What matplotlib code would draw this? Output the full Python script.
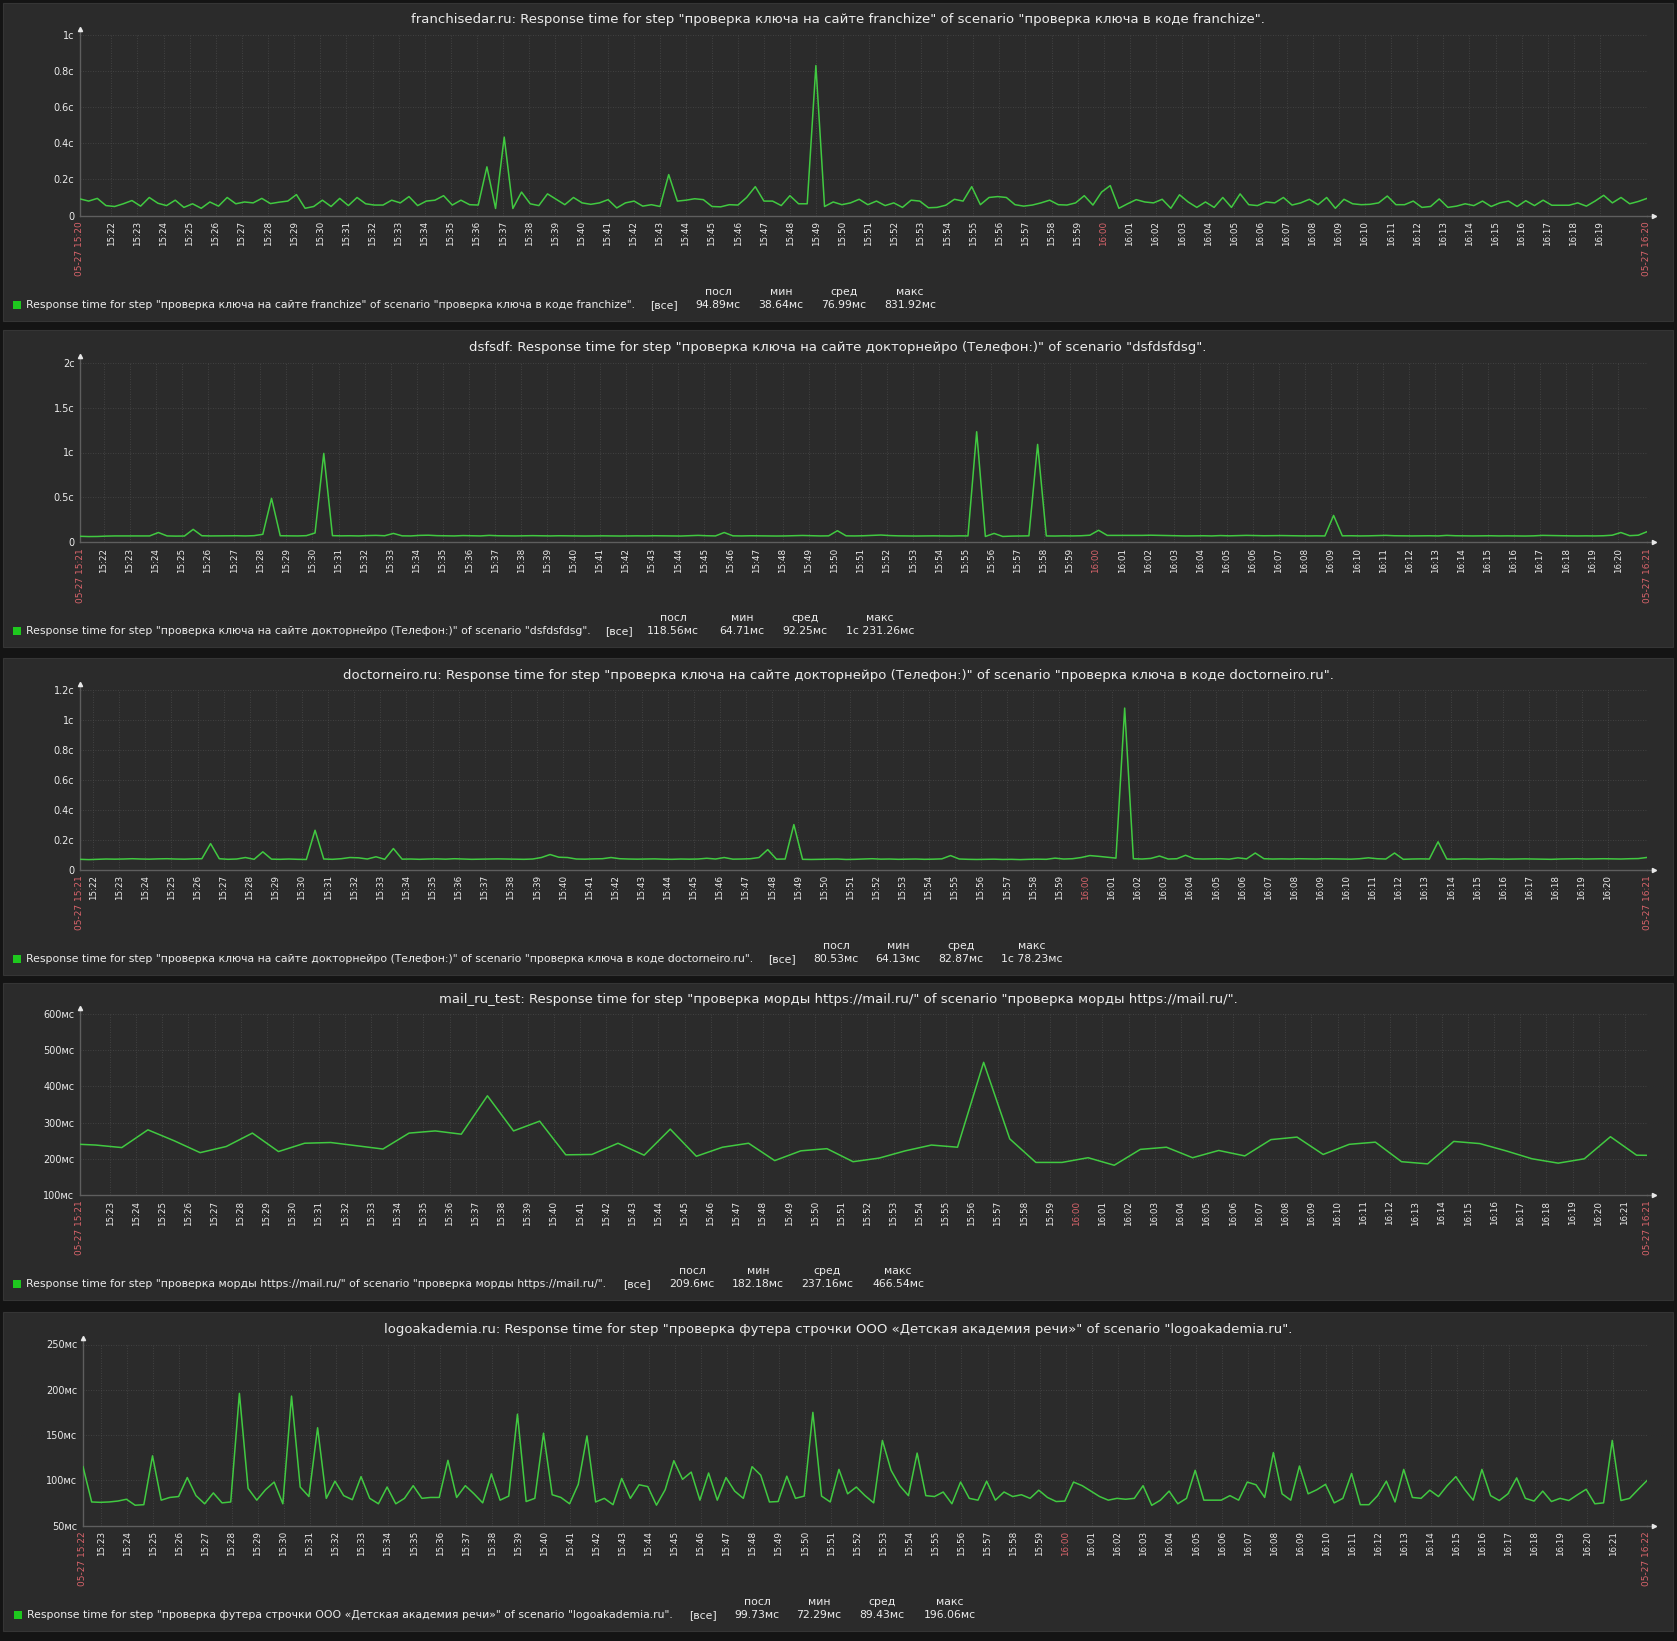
import numpy as np
import matplotlib.pyplot as plt
from matplotlib.patches import Rectangle

W, H = 1677, 1641
BG = '#141414'
PANEL = '#2b2b2b'
TXT = '#ececec'
RED = '#d9646b'
GREEN = '#41c941'

# ---- data (minutes after 15:00 for the window start, values per sample) ----
# franchisedar.ru, seconds, even samples over 60 minutes
franch_vals = [
    0.092, 0.08, 0.095, 0.055, 0.05, 0.065, 0.083, 0.052, 0.1, 0.068,
    0.055, 0.085, 0.045, 0.065, 0.04, 0.075, 0.052, 0.1, 0.065, 0.075,
    0.07, 0.095, 0.066, 0.074, 0.08, 0.116, 0.04, 0.05, 0.085, 0.05,
    0.095, 0.055, 0.1, 0.065, 0.058, 0.058, 0.085, 0.07, 0.105, 0.055,
    0.08, 0.085, 0.11, 0.058, 0.085, 0.06, 0.058, 0.27, 0.039, 0.435,
    0.039, 0.13, 0.065, 0.055, 0.12, 0.09, 0.06, 0.1, 0.07, 0.062,
    0.07, 0.088, 0.042, 0.07, 0.08, 0.052, 0.06, 0.05, 0.227, 0.08,
    0.085, 0.093, 0.088, 0.05, 0.048, 0.06, 0.058, 0.1, 0.16, 0.08,
    0.08, 0.055, 0.11, 0.065, 0.065, 0.832, 0.05, 0.075, 0.06, 0.07,
    0.09, 0.06, 0.08, 0.055, 0.07, 0.045, 0.085, 0.08, 0.043, 0.045,
    0.057, 0.09, 0.08, 0.16, 0.06, 0.1, 0.105, 0.1, 0.06, 0.052,
    0.058, 0.07, 0.085, 0.06, 0.058, 0.07, 0.11, 0.058, 0.13, 0.166,
    0.04, 0.065, 0.088, 0.075, 0.07, 0.09, 0.04, 0.115, 0.075, 0.045,
    0.075, 0.045, 0.1, 0.045, 0.12, 0.06, 0.055, 0.075, 0.07, 0.1,
    0.058, 0.07, 0.09, 0.06, 0.1, 0.04, 0.09, 0.065, 0.06, 0.062,
    0.07, 0.108, 0.06, 0.06, 0.08, 0.045, 0.05, 0.092, 0.045, 0.052,
    0.065, 0.055, 0.08, 0.05, 0.07, 0.08, 0.05, 0.082, 0.055, 0.085,
    0.057, 0.057, 0.057, 0.07, 0.052, 0.08, 0.112, 0.07, 0.1, 0.065,
    0.078, 0.095,
]

# dsfsdf, seconds
dsf_vals = [
    0.068, 0.065, 0.066, 0.070, 0.072, 0.072, 0.071, 0.073, 0.072, 0.110,
    0.072, 0.070, 0.071, 0.145, 0.074, 0.072, 0.073, 0.075, 0.074, 0.072,
    0.075, 0.090, 0.490, 0.074, 0.073, 0.072, 0.075, 0.105, 0.990, 0.075,
    0.073, 0.074, 0.072, 0.076, 0.078, 0.074, 0.100, 0.073, 0.072, 0.078,
    0.080, 0.075, 0.073, 0.072, 0.076, 0.074, 0.072, 0.078, 0.074, 0.073,
    0.072, 0.074, 0.075, 0.073, 0.072, 0.074, 0.073, 0.072, 0.071, 0.072,
    0.073, 0.072, 0.071, 0.072, 0.073, 0.072, 0.074, 0.073, 0.072, 0.071,
    0.075, 0.078, 0.074, 0.072, 0.110, 0.073, 0.072, 0.074, 0.073, 0.072,
    0.071, 0.072, 0.075, 0.077, 0.074, 0.072, 0.073, 0.130, 0.073, 0.072,
    0.074, 0.078, 0.082, 0.076, 0.073, 0.072, 0.071, 0.072, 0.073, 0.072,
    0.071, 0.073, 0.072, 1.231, 0.066, 0.100, 0.066, 0.070, 0.072, 0.073,
    1.090, 0.072, 0.071, 0.073, 0.072, 0.074, 0.080, 0.135, 0.078, 0.078,
    0.078, 0.077, 0.078, 0.080, 0.078, 0.077, 0.074, 0.072, 0.073, 0.074,
    0.072, 0.076, 0.073, 0.075, 0.078, 0.076, 0.074, 0.075, 0.076, 0.074,
    0.073, 0.072, 0.073, 0.072, 0.300, 0.073, 0.074, 0.072, 0.073, 0.076,
    0.078, 0.074, 0.073, 0.072, 0.073, 0.074, 0.072, 0.078, 0.074, 0.073,
    0.072, 0.073, 0.074, 0.072, 0.073, 0.072, 0.071, 0.073, 0.078, 0.076,
    0.074, 0.073, 0.072, 0.073, 0.072, 0.074, 0.080, 0.110, 0.075, 0.080,
    0.119,
]

# doctorneiro.ru, seconds
doc_vals = [
    0.068, 0.066, 0.068, 0.070, 0.069, 0.070, 0.072, 0.070, 0.069, 0.071,
    0.072, 0.070, 0.069, 0.071, 0.072, 0.173, 0.072, 0.068, 0.070, 0.080,
    0.068, 0.118, 0.069, 0.068, 0.070, 0.068, 0.067, 0.262, 0.070, 0.068,
    0.072, 0.080, 0.078, 0.070, 0.085, 0.068, 0.140, 0.069, 0.070, 0.068,
    0.070, 0.071, 0.069, 0.072, 0.070, 0.068, 0.069, 0.070, 0.071, 0.070,
    0.069, 0.068, 0.070, 0.080, 0.100, 0.082, 0.080, 0.070, 0.069, 0.071,
    0.072, 0.080, 0.072, 0.070, 0.069, 0.070, 0.071, 0.069, 0.068, 0.070,
    0.069, 0.070, 0.075, 0.070, 0.080, 0.069, 0.070, 0.072, 0.080, 0.133,
    0.069, 0.070, 0.300, 0.068, 0.067, 0.068, 0.069, 0.070, 0.067, 0.068,
    0.070, 0.072, 0.069, 0.070, 0.068, 0.069, 0.070, 0.068, 0.069, 0.071,
    0.093, 0.070, 0.068, 0.067, 0.068, 0.069, 0.067, 0.068, 0.066, 0.068,
    0.069, 0.068, 0.076, 0.070, 0.072, 0.080, 0.093, 0.088, 0.082, 0.076,
    1.078, 0.072, 0.070, 0.074, 0.090, 0.070, 0.072, 0.095, 0.072, 0.070,
    0.071, 0.072, 0.069, 0.078, 0.071, 0.110, 0.072, 0.070, 0.071, 0.070,
    0.072, 0.071, 0.070, 0.072, 0.071, 0.070, 0.069, 0.072, 0.078, 0.072,
    0.070, 0.110, 0.068, 0.070, 0.071, 0.070, 0.185, 0.070, 0.069, 0.071,
    0.070, 0.069, 0.071, 0.070, 0.069, 0.070, 0.071, 0.070, 0.069, 0.068,
    0.070, 0.071, 0.072, 0.070, 0.071, 0.072, 0.071, 0.070, 0.072, 0.073,
    0.0805,
]

# mail_ru_test, milliseconds, one check per minute
mail_t = [0.0] + [m + 0.6 for m in range(60)] + [60.0]
mail_vals = [
    240, 238, 231, 280, 250, 217, 234, 271, 220, 243,
    245, 236, 227, 271, 277, 268, 374, 277, 304, 211,
    212, 243, 210, 282, 207, 232, 243, 195, 222, 228,
    192, 202, 222, 238, 232, 466.5, 255, 190, 190, 203,
    182.2, 226, 232, 203, 223, 208, 253, 260, 212, 240,
    246, 192, 186, 248, 242, 222, 200, 188, 200, 261,
    210, 209.6,
]

# logoakademia.ru, milliseconds
logo_vals = [
    115, 76, 75.6, 76, 77, 79, 72.4, 73, 127, 78,
    81, 82, 103, 83, 74, 86, 75, 76, 196, 91,
    78, 89.5, 98, 74, 193, 92.5, 82, 158, 80, 99,
    83, 78.5, 104, 80, 74, 92.5, 74, 80, 94, 80,
    81, 81, 122, 81, 94, 85, 75, 107, 78, 82.5,
    173, 76.5, 80, 152, 84, 81, 74, 95.5, 149, 76,
    80, 73, 102, 80, 95, 93, 72.5, 89.5, 121.6, 101,
    109, 78, 108, 78, 103, 88, 80, 115, 105.6, 76,
    76.5, 104.5, 80, 82.5, 175, 82.5, 76, 112, 85, 92.5,
    83, 75, 144, 111, 94, 83, 130, 83, 82, 87,
    74, 98, 80, 78, 99, 78, 87, 82, 84, 80,
    89, 81, 76.5, 77, 98, 94, 88, 82, 78, 80,
    79, 80, 94, 72.3, 78, 88, 74, 80, 111, 78,
    78, 78, 83, 78, 98, 95, 81, 130.6, 85, 78,
    115.7, 85, 89.5, 95.5, 75, 80, 107.5, 73, 73, 83,
    99, 76, 112, 81, 80, 89, 82, 94, 104, 90,
    78, 112, 83, 77.6, 85, 102.6, 80, 77, 88, 76.5,
    80, 77.6, 84, 90, 74, 75, 144, 77.6, 80, 90,
    99.7,
]

stat_names = ['посл', 'мин', 'сред', 'макс']
franch_stats = ['94.89мс', '38.64мс', '76.99мс', '831.92мс']
dsf_stats = ['118.56мс', '64.71мс', '92.25мс', '1с 231.26мс']
doc_stats = ['80.53мс', '64.13мс', '82.87мс', '1с 78.23мс']
mail_stats = ['209.6мс', '182.18мс', '237.16мс', '466.54мс']
logo_stats = ['99.73мс', '72.29мс', '89.43мс', '196.06мс']

step_franch = 'Response time for step "проверка ключа на сайте franchize" of scenario "проверка ключа в коде franchize".'
step_dsf = 'Response time for step "проверка ключа на сайте докторнейро (Телефон:)" of scenario "dsfdsfdsg".'
step_doc = 'Response time for step "проверка ключа на сайте докторнейро (Телефон:)" of scenario "проверка ключа в коде doctorneiro.ru".'
step_mail = 'Response time for step "проверка морды https://mail.ru/" of scenario "проверка морды https://mail.ru/".'
step_logo = 'Response time for step "проверка футера строчки ООО «Детская академия речи»" of scenario "logoakademia.ru".'

fig = plt.figure(figsize=(W / 100, H / 100), dpi=100, facecolor=BG)


def fy(py):
    return 1 - py / H


def hm(m):
    return f"{15 + int(m) // 60}:{int(m) % 60:02d}"


def draw_panel(box, plot, start, t, vals, ylim, yticks, ylabels, tick_rng,
               title, legend, stats, stats_x, sq_x):
    top, bottom = box
    left, ptop, pbot = plot
    right = 1647
    fig.patches.append(Rectangle((3 / W, fy(bottom)), 1670 / W, (bottom - top) / H,
                                 transform=fig.transFigure, facecolor=PANEL,
                                 edgecolor='#353535', lw=0.8, zorder=-5))
    ax = fig.add_axes([left / W, fy(pbot), (right - left) / W, (pbot - ptop) / H])
    ax.set_facecolor('none')
    ax.plot(start + np.asarray(t), vals, color=GREEN, lw=1.1, zorder=3)
    ax.set_xlim(start, start + 60)
    ax.set_ylim(*ylim)

    # grid and ticks
    ticks = list(range(tick_rng[0], tick_rng[1] + 1))
    ax.set_xticks(ticks)
    ax.set_xticklabels([hm(m) for m in ticks], rotation=90, fontsize=6.3,
                       va='top', ha='center')
    for lab, m in zip(ax.get_xticklabels(), ticks):
        lab.set_color(RED if m == 60 else TXT)
    ax.set_yticks(yticks)
    ax.set_yticklabels(ylabels, fontsize=7, color=TXT)
    ax.tick_params(axis='both', length=0, pad=4)
    ax.grid(True, color='#4a4a4a', lw=0.6, ls=(0, (1, 2)))
    for s in ['top', 'right']:
        ax.spines[s].set_visible(False)
    for s in ['left', 'bottom']:
        ax.spines[s].set_color('#5e5e5e')
        ax.spines[s].set_linewidth(1)

    # axis arrows
    ax.plot([0, 0], [1, 1.03], color='#5e5e5e', lw=1, transform=ax.transAxes, clip_on=False)
    ax.plot([0], [1.035], marker='^', ms=3, color='#e8e8e8', transform=ax.transAxes, clip_on=False)
    ax.plot([1, 1.004], [0, 0], color='#5e5e5e', lw=1, transform=ax.transAxes, clip_on=False)
    ax.plot([1.0045], [0], marker='>', ms=3, color='#e8e8e8', transform=ax.transAxes, clip_on=False)

    # start / end stamps
    for m in (start, start + 60):
        ax.annotate('05-27 ' + hm(m), xy=(m, 0), xycoords=('data', 'axes fraction'),
                    xytext=(0, -4), textcoords='offset points', rotation=90,
                    va='top', ha='center', fontsize=6.5, color=RED)

    # title
    fig.text(838 / W, fy(top + 17), title, ha='center', va='center', fontsize=9.5, color=TXT)

    # legend row
    ly = bottom - 16
    fig.patches.append(Rectangle((sq_x / W, fy(ly + 4)), 8 / W, 8 / H,
                                 transform=fig.transFigure, facecolor='#1ec81e', lw=0))
    fig.text((sq_x + 13) / W, fy(ly), legend, ha='left', va='center', fontsize=7.8, color=TXT)
    fig.text(stats_x[0] / W, fy(ly), '[все]', ha='center', va='center', fontsize=7.8, color=TXT)
    for name, val, x in zip(stat_names, stats, stats_x[1:]):
        fig.text(x / W, fy(ly - 13), name, ha='center', va='center', fontsize=7.8, color=TXT)
        fig.text(x / W, fy(ly), val, ha='center', va='center', fontsize=7.8, color=TXT)
    return ax


n1 = np.linspace(0, 60, len(franch_vals))
draw_panel((3, 321), (80, 35.3, 215.5), 20.8, n1, franch_vals, (0, 1),
           [0, 0.2, 0.4, 0.6, 0.8, 1], ['0', '0.2с', '0.4с', '0.6с', '0.8с', '1с'],
           (22, 79), 'franchisedar.ru: ' + step_franch, step_franch,
           franch_stats, [664, 718, 781, 844, 910], 12.5)

n2 = np.linspace(0, 60, len(dsf_vals))
draw_panel((330, 647), (80, 362.6, 542.4), 21.1, n2, dsf_vals, (0, 2),
           [0, 0.5, 1, 1.5, 2], ['0', '0.5с', '1с', '1.5с', '2с'],
           (22, 80), 'dsfsdf: ' + step_dsf, step_dsf,
           dsf_stats, [619, 673, 742, 805, 880], 12.5)

n3 = np.linspace(0, 60, len(doc_vals))
draw_panel((658, 975), (80, 689.8, 869.5), 21.5, n3, doc_vals, (0, 1.2),
           [0, 0.2, 0.4, 0.6, 0.8, 1, 1.2], ['0', '0.2с', '0.4с', '0.6с', '0.8с', '1с', '1.2с'],
           (22, 80), 'doctorneiro.ru: ' + step_doc, step_doc,
           doc_stats, [782, 836, 898, 961, 1032], 12.5)

draw_panel((983, 1300), (80, 1014, 1195), 21.85, mail_t, mail_vals, (100, 600),
           [100, 200, 300, 400, 500, 600], ['100мс', '200мс', '300мс', '400мс', '500мс', '600мс'],
           (23, 81), 'mail_ru_test: ' + step_mail, step_mail,
           mail_stats, [637, 692, 758, 827, 898], 12.5)

n5 = np.linspace(0, 60, len(logo_vals))
draw_panel((1312, 1631), (83, 1344.5, 1525.5), 22.3, n5, logo_vals, (50, 250),
           [50, 100, 150, 200, 250], ['50мс', '100мс', '150мс', '200мс', '250мс'],
           (23, 81), 'logoakademia.ru: ' + step_logo, step_logo,
           logo_stats, [703, 757, 819, 882, 950], 14)

fig.savefig('out.png', dpi=100, facecolor=BG)
